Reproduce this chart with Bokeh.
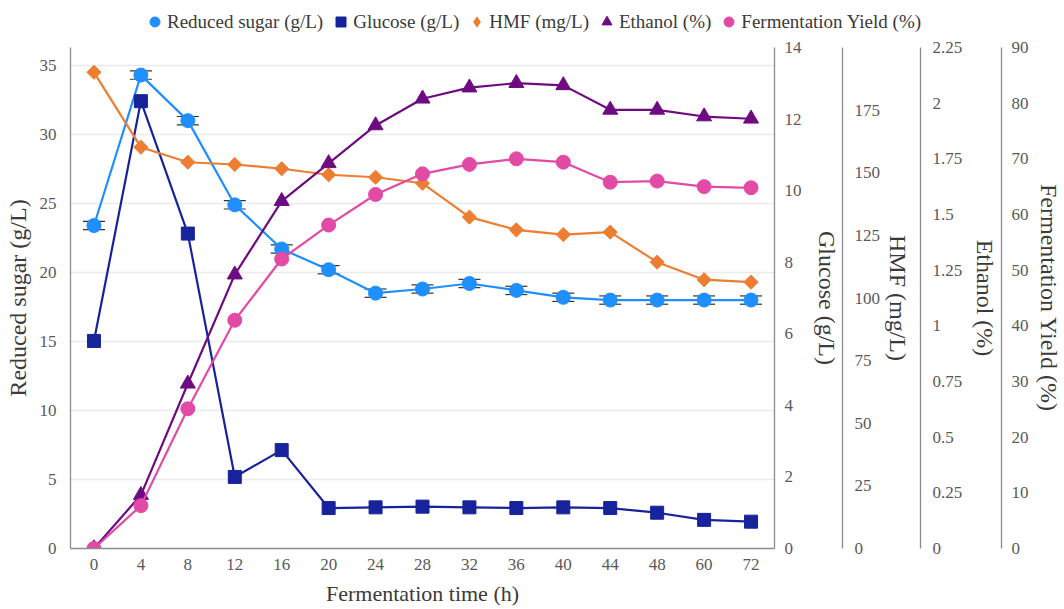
from bokeh.plotting import figure
from bokeh.layouts import column
from bokeh.models import (Range1d, LinearAxis, FixedTicker, ColumnDataSource, Whisker, TeeHead,
                          Legend, LegendItem, NumeralTickFormatter, FactorRange)
from bokeh.embed import file_html
from bokeh.resources import INLINE

time_labels = ["0", "4", "8", "12", "16", "20", "24", "28", "32", "36", "40", "44", "48", "60", "72"]
reduced_sugar = [23.4, 34.3, 31.0, 24.9, 21.7, 20.2, 18.5, 18.8, 19.2, 18.7, 18.2, 18.0, 18.0, 18.0, 18.0]
reduced_sugar_err = [0.3, 0.3, 0.3, 0.3, 0.3, 0.3, 0.3, 0.3, 0.3, 0.3, 0.3, 0.3, 0.3, 0.3, 0.3]
glucose = [5.8, 12.5, 8.8, 2.0, 2.75, 1.13, 1.15, 1.17, 1.15, 1.13, 1.15, 1.13, 1.0, 0.8, 0.75]
hmf = [190.1, 160.2, 154.2, 153.3, 151.6, 149.2, 148.2, 145.8, 132.3, 127.2, 125.3, 126.3, 114.3, 107.3, 106.3]
ethanol = [0.0, 0.24, 0.74, 1.23, 1.56, 1.73, 1.90, 2.02, 2.07, 2.09, 2.08, 1.97, 1.97, 1.94, 1.93]
ferm_yield = [0.0, 7.7, 25.1, 41.0, 52.0, 58.1, 63.6, 67.3, 69.0, 70.0, 69.4, 65.8, 66.0, 65.0, 64.8]

series_names = ["Reduced sugar (g/L)", "Glucose (g/L)", "HMF (mg/L)", "Ethanol (%)", "Fermentation Yield (%)"]

left_ticks = [0, 5, 10, 15, 20, 25, 30, 35]
glucose_ticks = [0, 2, 4, 6, 8, 10, 12, 14]
hmf_ticks = [0, 25, 50, 75, 100, 125, 150, 175]
ethanol_ticks = [0, 0.25, 0.5, 0.75, 1, 1.25, 1.5, 1.75, 2, 2.25]
yield_ticks = [0, 10, 20, 30, 40, 50, 60, 70, 80, 90]

FONT = "Liberation Serif"
TICK_COLOR = "#595959"
TITLE_COLOR = "#3a3a3a"
AXIS_COLOR = "#8c8c8c"

C_RS = "#1f8fff"
C_GLU = "#17239b"
C_HMF = "#ED7D31"
C_ETH = "#6e0b80"
C_YLD = "#E24AA5"
LW = 2.2
DIAMOND_ANGLE = 0.7853981634
# (marker, size, colour, angle) per series
MARKERS = [("circle", 14, C_RS, 0.0), ("square", 13, C_GLU, 0.0), ("square", 10, C_HMF, DIAMOND_ANGLE),
           ("triangle", 15, C_ETH, 0.0), ("circle", 14, C_YLD, 0.0)]
LEGEND_MARKERS = ["circle", "square", "diamond", "triangle", "circle"]

LEGEND_H = 37

src = ColumnDataSource(dict(
    t=time_labels, rs=reduced_sugar,
    rs_lo=[v - e for v, e in zip(reduced_sugar, reduced_sugar_err)],
    rs_hi=[v + e for v, e in zip(reduced_sugar, reduced_sugar_err)],
    glu=glucose, hmf=hmf, eth=ethanol, yld=ferm_yield,
))

p = figure(width=1064, height=609 - LEGEND_H, x_range=FactorRange(*time_labels), y_range=Range1d(0, 36.3),
           output_backend="svg", toolbar_location=None,
           min_border_left=70, min_border_top=10, min_border_bottom=61, min_border_right=288)
p.frame_align = False
p.outline_line_color = None
p.extra_y_ranges = {"glu": Range1d(0, 14), "hmf": Range1d(0, 200),
                    "eth": Range1d(0, 2.25), "yld": Range1d(0, 90)}


def style_axis(ax, label_standoff, title_standoff, title_size="24px"):
    ax.major_tick_out = 0
    ax.major_tick_in = 0
    ax.minor_tick_out = 0
    ax.minor_tick_in = 0
    ax.axis_line_color = AXIS_COLOR
    ax.axis_line_width = 1.3
    ax.major_label_text_font = FONT
    ax.major_label_text_font_size = "17px"
    ax.major_label_text_color = TICK_COLOR
    ax.major_label_standoff = label_standoff
    ax.axis_label_text_font = FONT
    ax.axis_label_text_font_style = "normal"
    ax.axis_label_text_font_size = title_size
    ax.axis_label_text_color = TITLE_COLOR
    ax.axis_label_standoff = title_standoff


def spacer(range_name, gap):
    sp = LinearAxis(y_range_name=range_name, ticker=FixedTicker(ticks=[]),
                    axis_line_color=None, major_tick_out=0, major_tick_in=0,
                    minor_tick_out=0, minor_tick_in=0, major_label_standoff=0,
                    axis_label=" ", axis_label_standoff=max(gap - 1, 0),
                    axis_label_text_font_size="1px")
    return sp


# left axis
yax = p.yaxis[0]
yax.ticker = FixedTicker(ticks=left_ticks)
yax.axis_label = "Reduced sugar (g/L)"
style_axis(yax, 14, 6)
p.ygrid.ticker = FixedTicker(ticks=left_ticks)
p.ygrid.grid_line_color = "#ebebeb"
p.ygrid.grid_line_width = 1.3
p.xgrid.grid_line_color = None

# bottom axis
xax = p.xaxis[0]
xax.axis_label = "Fermentation time (h)"
style_axis(xax, 10, 8, title_size="22px")

# right axes
ax_glu = LinearAxis(y_range_name="glu", ticker=FixedTicker(ticks=glucose_ticks), axis_label="Glucose (g/L)")
style_axis(ax_glu, 10, 9)
p.add_layout(ax_glu, "right")

ax_hmf = LinearAxis(y_range_name="hmf", ticker=FixedTicker(ticks=hmf_ticks), axis_label="HMF (mg/L)")
style_axis(ax_hmf, 12, 2)
p.add_layout(ax_hmf, "right")
p.add_layout(spacer("hmf", 3), "right")

ax_eth = LinearAxis(y_range_name="eth", ticker=FixedTicker(ticks=ethanol_ticks), axis_label="Ethanol (%)",
                    formatter=NumeralTickFormatter(format="0.[00]"))
style_axis(ax_eth, 12, 7)
p.add_layout(ax_eth, "right")

ax_yld = LinearAxis(y_range_name="yld", ticker=FixedTicker(ticks=yield_ticks), axis_label="Fermentation Yield (%)")
style_axis(ax_yld, 10, 4)
p.add_layout(ax_yld, "right")

cols = ["rs", "glu", "hmf", "eth", "yld"]
ranges = ["default", "glu", "hmf", "eth", "yld"]

for i, (c, rn, (mk, sz, col, ang)) in enumerate(zip(cols, ranges, MARKERS)):
    p.line("t", c, source=src, line_color=col, line_width=LW, y_range_name=rn)
    p.scatter("t", c, source=src, marker=mk, size=sz, angle=ang, fill_color=col, line_color=col,
              y_range_name=rn)
    if i == 0:
        p.add_layout(Whisker(source=src, base="t", upper="rs_hi", lower="rs_lo",
                             line_color="#333333", line_width=1.2,
                             upper_head=TeeHead(size=22, line_color="#333333", line_width=1.2),
                             lower_head=TeeHead(size=22, line_color="#333333", line_width=1.2)))

# legend strip on top (separate canvas so the legend is not clipped by the plot frame)
lg = figure(width=1064, height=LEGEND_H, x_range=Range1d(0, 1), y_range=Range1d(0, 1),
            output_backend="svg", toolbar_location=None,
            min_border_left=0, min_border_right=0, min_border_top=0, min_border_bottom=0)
lg.frame_align = False
lg.axis.visible = False
lg.grid.visible = False
lg.outline_line_color = None
items = []
for name, lmk, (mk, sz, col, ang) in zip(series_names, LEGEND_MARKERS, MARKERS):
    rm = lg.scatter(x=[-5], y=[-5], marker=lmk, size=sz, fill_color=col, line_color=col)
    items.append(LegendItem(label=name, renderers=[rm]))
legend = Legend(items=items, orientation="horizontal", location=(142, 3))
legend.border_line_color = None
legend.background_fill_alpha = 0
legend.padding = 0
legend.margin = 0
legend.spacing = 5
legend.label_standoff = 0
legend.glyph_width = 25
legend.glyph_height = 25
legend.label_height = 25
legend.label_text_font = FONT
legend.label_text_font_size = "19px"
legend.label_text_color = TITLE_COLOR
lg.add_layout(legend)

layout = column(lg, p, spacing=0)
open("out.html", "w").write(file_html(layout, INLINE))
